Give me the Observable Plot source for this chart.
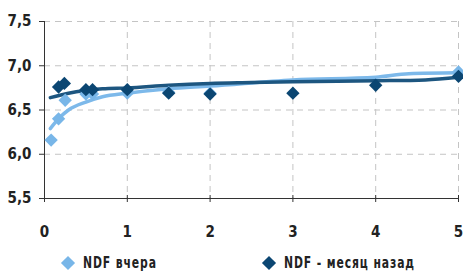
<!DOCTYPE html>
<html>
<head>
<meta charset="utf-8">
<script src="https://cdn.jsdelivr.net/npm/d3@7"></script>
<script src="https://cdn.jsdelivr.net/npm/@observablehq/plot@0.6"></script>
<style>
  html, body { margin: 0; padding: 0; background: #fff; }
  #wrap { width: 463px; height: 273px; position: relative; font-family: "DejaVu Sans Condensed", "Liberation Sans Narrow", sans-serif; font-weight: bold; }
  #legend { position: absolute; left: 0; top: 252px; width: 463px; height: 21px; font-size: 16px; color: #222; letter-spacing: 1.2px; }
  .item { position: absolute; top: 0; display: flex; align-items: center; height: 21px; white-space: nowrap; }
  .sw { width: 10px; height: 10px; transform: rotate(45deg); margin-right: 10px; flex: none; }
  .tx { display: inline-block; transform: scaleX(0.75); transform-origin: left center; }
</style>
</head>
<body>
<div id="wrap">
  <div id="chart"></div>
  <div id="legend"></div>
</div>
<script>
// Series names and colors
const seriesNames = ["NDF вчера", "NDF - месяц назад"];
const seriesColors = ["#78b6e8", "#0b4672"];
const lineColors = ["#7db9ea", "#1d5680"];

// Points: NDF вчера (yesterday)
const yestX = [0.08, 0.17, 0.25, 0.5, 0.58, 1, 1.5, 2, 5];
const yestY = [6.16, 6.40, 6.61, 6.68, 6.68, 6.69, 6.70, 6.69, 6.93];

// Points: NDF - месяц назад (a month ago)
const monthX = [0.17, 0.24, 0.5, 0.58, 1, 1.5, 2, 3, 4, 5];
const monthY = [6.76, 6.80, 6.73, 6.73, 6.73, 6.69, 6.68, 6.69, 6.78, 6.88];

// Trend line: NDF вчера
const yestTrendX = [0.07, 0.19, 0.29, 0.5, 0.7, 1, 1.5, 2, 3, 4, 4.4, 5];
const yestTrendY = [6.29, 6.42, 6.50, 6.59, 6.65, 6.69, 6.74, 6.77, 6.84, 6.87, 6.91, 6.92];

// Trend line: NDF - месяц назад
const monthTrendX = [0.07, 0.29, 0.7, 1, 1.5, 2, 2.5, 3, 4, 4.6, 5];
const monthTrendY = [6.64, 6.69, 6.74, 6.75, 6.78, 6.80, 6.81, 6.82, 6.83, 6.84, 6.87];

// Ticks
const xTicks = [0, 1, 2, 3, 4, 5];
const xGrid = [1, 2, 3, 4, 5];
const yTicks = [5.5, 6.0, 6.5, 7.0, 7.5];
const yGrid = [6.0, 6.5, 7.0, 7.5];

const zip = (xs, ys) => xs.map((x, i) => ({x, y: ys[i]}));
const yest = zip(yestX, yestY);
const month = zip(monthX, monthY);
const yestTrend = zip(yestTrendX, yestTrendY);
const monthTrend = zip(monthTrendX, monthTrendY);

const fmt = d => d3.format(".1f")(d).replace(".", ",");

const plot = Plot.plot({
  width: 463,
  height: 252,
  marginLeft: 44,
  marginRight: 5,
  marginTop: 21,
  marginBottom: 54,
  style: { fontFamily: '"DejaVu Sans Condensed", "Liberation Sans Narrow", sans-serif', fontWeight: "bold", fontSize: "15px", color: "#222", background: "#fff" },
  x: { domain: [0, 5], label: null },
  y: { domain: [5.5, 7.5], label: null },
  marks: [
    Plot.gridY(yGrid, { stroke: "#c4c4c4", strokeOpacity: 1, strokeDasharray: "6,5", strokeWidth: 1 }),
    Plot.gridX(xGrid, { stroke: "#c4c4c4", strokeOpacity: 1, strokeDasharray: "6,5", strokeWidth: 1 }),
    Plot.axisY(yTicks, { tickSize: 5, tickPadding: 8, tickFormat: fmt, stroke: "#333", fill: "#222", label: null }),
    Plot.axisX(xTicks, { tickSize: 7, dy: -3, tickFormat: () => "", stroke: "#333", label: null }),
    Plot.axisX(xTicks, { tickSize: 0, tickPadding: 28, tickFormat: d => String(d), fill: "#222", label: null }),
    Plot.ruleX([0], { stroke: "#333" }),
    Plot.ruleY([5.5], { stroke: "#333" }),
    Plot.line(yestTrend, { x: "x", y: "y", stroke: lineColors[0], strokeWidth: 3.5, curve: "monotone-x" }),
    Plot.line(monthTrend, { x: "x", y: "y", stroke: lineColors[1], strokeWidth: 3.5, curve: "monotone-x" }),
    Plot.dot(yest, { x: "x", y: "y", symbol: "diamond2", r: 6, fill: seriesColors[0], stroke: null }),
    Plot.dot(month, { x: "x", y: "y", symbol: "diamond2", r: 6, fill: seriesColors[1], stroke: null })
  ]
});
document.getElementById("chart").appendChild(plot);

const legend = document.getElementById("legend");
const legendLeft = [63, 264];
seriesNames.forEach((name, i) => {
  const it = document.createElement("div");
  it.className = "item";
  it.style.left = legendLeft[i] + "px";
  const sw = document.createElement("div");
  sw.className = "sw";
  sw.style.background = seriesColors[i];
  const tx = document.createElement("span");
  tx.className = "tx";
  tx.textContent = name;
  it.appendChild(sw);
  it.appendChild(tx);
  legend.appendChild(it);
});
</script>
</body>
</html>
